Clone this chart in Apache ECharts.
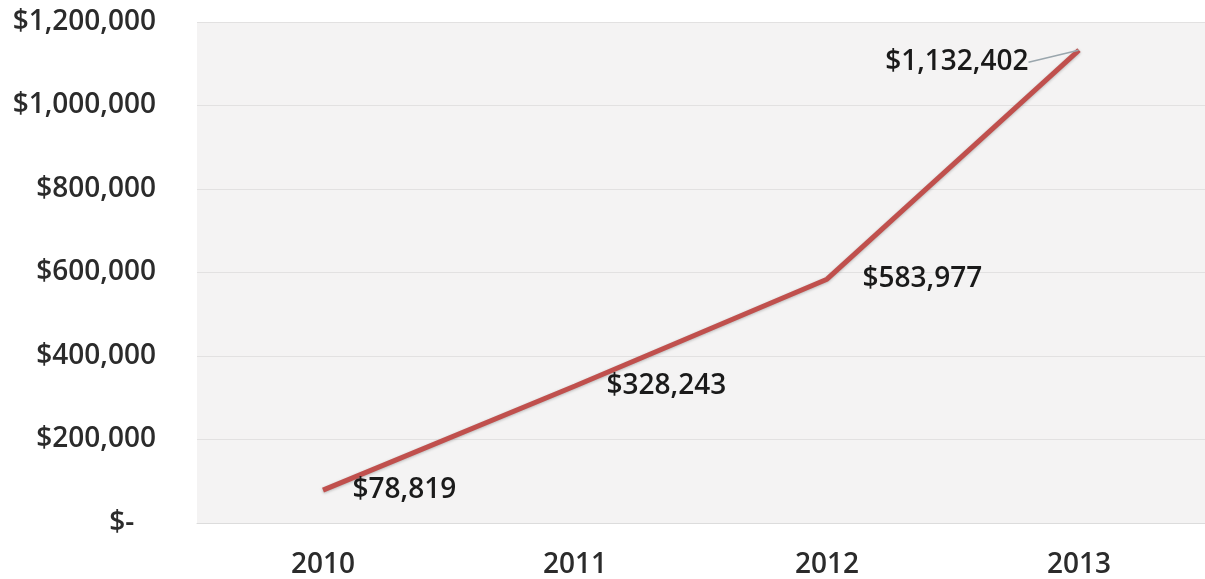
<!DOCTYPE html>
<html lang="en">
<head>
    <meta charset="UTF-8">
    <title>Revenue 2010-2013</title>
    <style>
        html,body{margin:0;padding:0;background:#fff}
        #main{width:1205px;height:579px}
    </style>
    <script src="https://cdn.jsdelivr.net/npm/echarts@6/dist/echarts.min.js"></script>
</head>
<body>
<div id="main"></div>
<script>
    var years = ['2010', '2011', '2012', '2013'];
    var revenue = [78819, 328243, 583977, 1132402];
    var yTicks = [0, 200000, 400000, 600000, 800000, 1000000, 1200000];

    var fontFam = '"Open Sans", "Noto Sans", sans-serif';

    function money(v) {
        if (v === 0) return '$-   ';
        return '$' + v.toString().replace(/\B(?=(\d{3})+(?!\d))/g, ',');
    }

    // label placement per point (right of the point except the last one)
    var labelPos = [
        {position: 'right', distance: 29, offset: [0, 8]},
        {position: 'right', distance: 31, offset: [0, 7]},
        {position: 'right', distance: 35, offset: [0, 4]},
        {position: 'right', distance: 0}
    ];

    var seriesData = [];
    for (var i = 0; i < revenue.length; i++) {
        seriesData.push({
            value: revenue[i],
            label: labelPos[i],
            labelLine: {show: i === revenue.length - 1}
        });
    }

    var myChart = echarts.init(document.getElementById('main'));
    myChart.setOption({
        backgroundColor: '#ffffff',
        animation: false,
        grid: {
            left: 197,
            top: 22,
            width: 1021,
            height: 501,
            show: true,
            backgroundColor: '#f4f3f3',
            borderWidth: 0
        },
        xAxis: {
            type: 'category',
            data: years,
            boundaryGap: true,
            axisLine: {show: true, lineStyle: {color: '#dcdcdc', width: 1}},
            axisTick: {show: false},
            axisLabel: {
                margin: 28,
                color: '#2b2b2b',
                fontSize: 28,
                fontWeight: 600,
                fontFamily: fontFam
            }
        },
        yAxis: {
            type: 'value',
            min: yTicks[0],
            max: yTicks[yTicks.length - 1],
            interval: 200000,
            axisLine: {show: false},
            axisTick: {show: false},
            splitLine: {lineStyle: {color: '#e2e1e1', width: 1}},
            axisLabel: {
                margin: 41,
                color: '#2b2b2b',
                fontSize: 28,
                fontWeight: 600,
                fontFamily: fontFam,
                formatter: money
            }
        },
        series: [{
            type: 'line',
            data: seriesData,
            symbol: 'circle',
            symbolSize: 1,
            itemStyle: {color: 'rgba(0,0,0,0)'},
            lineStyle: {
                color: '#c0504d',
                width: 5,
                shadowColor: 'rgba(0,0,0,0.25)',
                shadowBlur: 3,
                shadowOffsetY: 1
            },
            label: {
                show: true,
                color: '#1a1a1a',
                fontSize: 28,
                fontWeight: 600,
                fontFamily: fontFam,
                formatter: function (p) { return money(p.value); }
            },
            labelLine: {
                show: true,
                lineStyle: {color: '#9aa6ad', width: 1.5}
            },
            labelLayout: function (params) {
                if (params.dataIndex !== 3) return {};
                // move the last label to the left of its point, keeping a leader line
                return {
                    x: params.rect.x - 50 - params.labelRect.width,
                    y: params.rect.y + 12 + params.rect.height / 2,
                    verticalAlign: 'middle',
                    align: 'left'
                };
            }
        }]
    });
</script>
</body>
</html>
